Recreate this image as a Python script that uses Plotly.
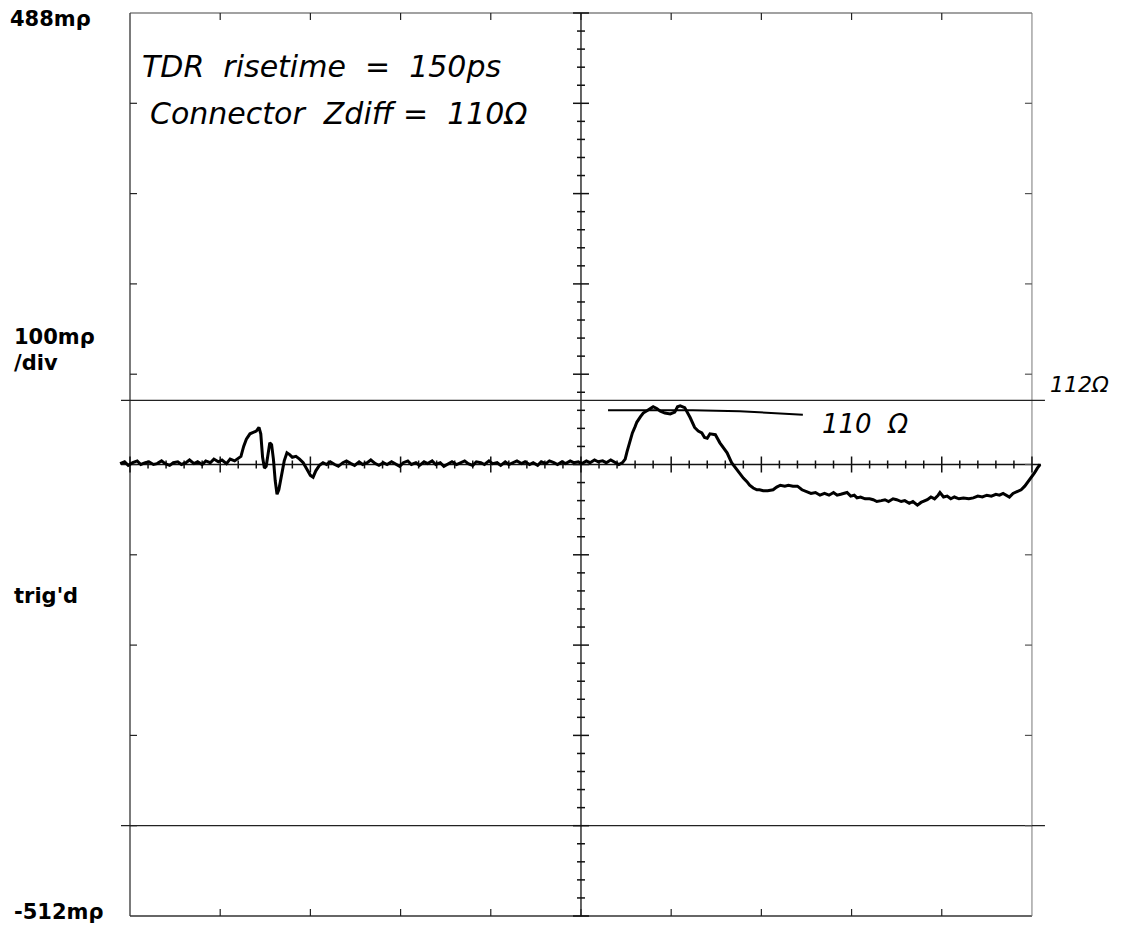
import plotly.graph_objects as go

# ---------------- data (x in divisions, y in milli-rho) ----------------
seg_a_x = [-0.11, -0.06, -0.02, 0.03, 0.08, 0.12, 0.17, 0.21, 0.26, 0.30,
           0.35, 0.39, 0.44, 0.48, 0.53, 0.57, 0.62, 0.66, 0.71, 0.75,
           0.80, 0.84, 0.89, 0.93, 0.98, 1.02, 1.07, 1.11, 1.16, 1.20]
seg_a_y = [-11, -9, -13, -10, -8, -12, -10, -9, -12, -11,
           -8, -11, -13, -10, -9, -12, -10, -7, -11, -9,
           -12, -8, -10, -6, -9, -7, -11, -6, -8, -5]

seg_b_x = [1.23, 1.26, 1.29, 1.33, 1.37, 1.40, 1.43, 1.45, 1.47, 1.49,
           1.51, 1.53, 1.55, 1.57, 1.59, 1.61, 1.63, 1.65, 1.68, 1.71,
           1.74, 1.77, 1.80, 1.84, 1.88, 1.92, 1.96, 2.00, 2.03, 2.06,
           2.10, 2.14, 2.18]
seg_b_y = [-3, 8, 16, 22, 24, 25, 29, 22, -4, -16,
           -14, 2, 12, 10, -6, -30, -45, -40, -24, -8,
           1, -1, -4, -3, -6, -10, -17, -24, -26, -19,
           -13, -10, -12]

seg_c_x = [2.22, 2.27, 2.31, 2.36, 2.40, 2.45, 2.49, 2.54, 2.58, 2.63,
           2.67, 2.72, 2.76, 2.81, 2.85, 2.90, 2.94, 2.99, 3.03, 3.08,
           3.12, 3.17, 3.21, 3.26, 3.30, 3.35, 3.39, 3.44, 3.48, 3.53,
           3.57, 3.62, 3.66, 3.71, 3.75, 3.80, 3.84, 3.89, 3.93, 3.98,
           4.02, 4.07, 4.11, 4.16, 4.20, 4.25, 4.29, 4.34, 4.38, 4.43,
           4.47, 4.52, 4.56, 4.61, 4.65, 4.70, 4.74, 4.79, 4.83, 4.88,
           4.92, 4.97, 5.01, 5.06, 5.10, 5.15, 5.19, 5.24, 5.28, 5.33,
           5.37, 5.42, 5.46]
seg_c_y = [-9, -12, -14, -10, -8, -11, -13, -9, -12, -10,
           -7, -11, -13, -10, -12, -9, -11, -14, -10, -8,
           -12, -10, -13, -9, -11, -8, -12, -10, -14, -11,
           -9, -12, -10, -8, -11, -13, -9, -10, -12, -8,
           -11, -10, -13, -9, -12, -10, -8, -11, -9, -12,
           -10, -13, -9, -11, -8, -10, -12, -9, -11, -8,
           -10, -9, -11, -8, -10, -7, -9, -8, -10, -7,
           -9, -12, -10]

seg_d_x = [5.49, 5.51, 5.54, 5.57, 5.60, 5.62, 5.66, 5.69, 5.74, 5.80,
           5.84, 5.88, 5.93, 5.99, 6.04, 6.07, 6.10, 6.15, 6.21, 6.26,
           6.30, 6.34, 6.37, 6.40, 6.43, 6.49, 6.54, 6.58, 6.62, 6.67,
           6.71, 6.74, 6.78, 6.80, 6.84, 6.87, 6.91, 6.95, 6.98, 7.02,
           7.07, 7.13, 7.17, 7.21, 7.26, 7.30, 7.35, 7.40, 7.45, 7.51,
           7.55, 7.60, 7.65, 7.70, 7.75, 7.80, 7.84, 7.88, 7.92, 7.95,
           7.99, 8.03, 8.06, 8.10, 8.15, 8.20, 8.24, 8.28, 8.33, 8.37,
           8.41, 8.46, 8.50, 8.55, 8.59, 8.64, 8.68, 8.73, 8.77, 8.81,
           8.84, 8.88, 8.92, 8.96, 8.98, 9.02, 9.06, 9.10, 9.14, 9.19,
           9.24, 9.30, 9.35, 9.40, 9.45, 9.50, 9.55, 9.60, 9.64, 9.68,
           9.72, 9.75, 9.79, 9.84, 9.88, 9.92, 9.96, 10.00, 10.03, 10.06,
           10.09]
seg_d_y = [-6, 2, 12, 23, 30, 35, 41, 45, 48, 52,
           50, 47, 45, 44, 46, 52, 53, 51, 40, 29,
           25, 23, 18, 17, 22, 21, 12, 7, 1, -10,
           -15, -20, -24, -27, -31, -35, -38, -40, -40, -41,
           -41, -40, -37, -35, -36, -35, -36, -36, -40, -42,
           -44, -43, -46, -44, -46, -43, -46, -45, -44, -43,
           -47, -46, -49, -48, -50, -50, -51, -53, -52, -51,
           -53, -50, -51, -53, -52, -55, -53, -57, -54, -52,
           -51, -48, -50, -46, -43, -48, -47, -50, -48, -50,
           -49, -50, -49, -47, -48, -46, -47, -45, -46, -44,
           -46, -48, -44, -42, -40, -36, -31, -26, -21, -16,
           -12]

trace_x = seg_a_x + seg_b_x + seg_c_x + seg_d_x
trace_y = seg_a_y + seg_b_y + seg_c_y + seg_d_y

# hand-drawn 110 ohm marker line
z110_x = [5.30, 6.24, 6.76, 7.06, 7.46]
z110_y = [48, 48, 47, 45, 43]

# scope scale
y_top, y_bottom = 488, -512          # mrho
y_center = -12
n_div = 10
cursor_112 = 59                       # mrho
cursor_low = -412                     # mrho

# ---------------- layout geometry ----------------
W, H = 1127, 930
DIV_PX = 90.2            # px per horizontal division
YPX = 0.903              # px per mrho
ML, MT, MB = 116, 2, 2
X0_PX = 130              # pixel of x = 0
TOP_PX = 13              # pixel of y = 488
x_min = -(X0_PX - ML) / DIV_PX
x_max = 10.2
PW = (x_max - x_min) * DIV_PX
MR = W - ML - PW
PH = H - MT - MB
y_max = y_top + (TOP_PX - MT) / YPX
y_min = y_max - PH / YPX

def px_x(px):   # pixel -> x data
    return (px - X0_PX) / DIV_PX

def px_y(py):   # pixel -> y data
    return y_top - (py - TOP_PX) / YPX

fig = go.Figure()

fig.add_trace(go.Scatter(x=trace_x, y=trace_y, mode="lines",
                         line=dict(color="black", width=3),
                         hoverinfo="skip", showlegend=False))
fig.add_trace(go.Scatter(x=z110_x, y=z110_y, mode="lines",
                         line=dict(color="black", width=2),
                         hoverinfo="skip", showlegend=False))

shapes = []
def seg(x0, y0, x1, y1, color="#222", width=1.2):
    shapes.append(dict(type="line", x0=x0, y0=y0, x1=x1, y1=y1,
                       xref="x", yref="y", layer="below",
                       line=dict(color=color, width=width)))

# borders
seg(0, y_bottom, 0, y_top, "#333", 1.3)
seg(0, y_top, n_div, y_top, "#444", 1.2)
seg(0, y_bottom, n_div, y_bottom, "#333", 1.3)
seg(n_div, y_bottom, n_div, y_top, "#777", 1.0)
# crosshair
seg(px_x(121), y_center, px_x(1041), y_center, "#111", 1.3)
seg(5, y_bottom, 5, y_top, "#111", 1.3)
# horizontal cursors
seg(px_x(121), cursor_112, px_x(1045), cursor_112, "#222", 1.3)
seg(px_x(121), cursor_low, px_x(1045), cursor_low, "#222", 1.3)

tick_x = 7 / DIV_PX
tick_y = 7 / YPX
for k in range(1, n_div):
    yv = y_top - 100 * k
    seg(0, yv, tick_x, yv)
    seg(n_div - tick_x, yv, n_div, yv, "#555")
    seg(k, y_top, k, y_top - tick_y)
    seg(k, y_bottom, k, y_bottom + tick_y)

for i in range(0, 5 * n_div + 1):
    major = (i % 5 == 0)
    hx = (8 if major else 4) / DIV_PX
    hy = (8 if major else 4) / YPX
    xv = i * 0.2
    seg(xv, y_center - hy, xv, y_center + hy, "#111", 1.5)
    yv = y_top - 20 * i
    seg(5 - hx, yv, 5 + hx, yv, "#111", 1.5)

fig.update_layout(shapes=shapes)

def ppx(px):
    return (px - ML) / PW

def ppy(py):
    return (H - MB - py) / PH

scope_font = dict(family="DejaVu Sans", size=21, color="black", weight="bold")
hand_font = dict(family="DejaVu Sans", size=26, color="black", style="italic")

left_labels = [("488mρ", 8, 19), ("100mρ", 12, 337), ("/div", 12, 363),
               ("trig'd", 12, 596), ("-512mρ", 12, 912)]
ann = []
for txt, px, py in left_labels:
    ann.append(dict(text=txt, x=ppx(px), y=ppy(py), xref="paper", yref="paper",
                    xanchor="left", yanchor="middle", showarrow=False,
                    font=scope_font))

hand_notes = [("TDR  risetime  =  150ps", 140, 66, 30),
              ("Connector  Zdiff =  110Ω", 148, 113, 30),
              ("110  Ω", 820, 424, 26),
              ("112Ω", 1048, 384, 22)]
for txt, px, py, sz in hand_notes:
    f = dict(hand_font)
    f["size"] = sz
    ann.append(dict(text=txt, x=px_x(px), y=px_y(py), xref="x", yref="y",
                    xanchor="left", yanchor="middle", showarrow=False,
                    font=f))

fig.update_layout(
    annotations=ann,
    width=W, height=H,
    margin=dict(l=ML, r=MR, t=MT, b=MB, pad=0),
    paper_bgcolor="white", plot_bgcolor="white",
    xaxis=dict(range=[x_min, x_max], visible=False, fixedrange=True),
    yaxis=dict(range=[y_min, y_max], visible=False, fixedrange=True),
    showlegend=False,
)

fig.write_html("out.html")
